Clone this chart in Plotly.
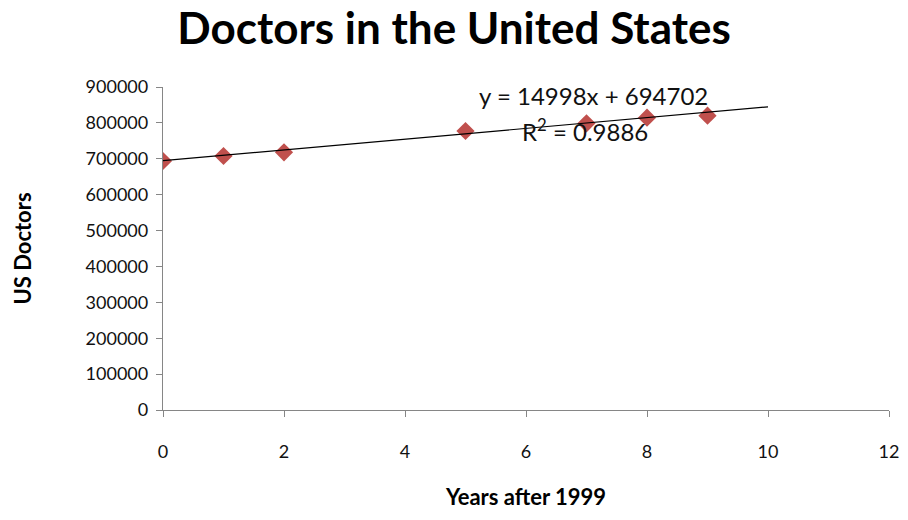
import plotly.graph_objects as go

# Years after 1999 and number of US doctors
years = [0, 1, 2, 5, 7, 8, 9]
doctors = [693800, 707700, 718000, 777400, 798900, 814500, 820000]

# Linear trendline coefficients and fit quality
slope = 14998
intercept = 694702
r_squared = 0.9886
trend_x = [0, 10]
trend_y = [slope * x + intercept for x in trend_x]

x_ticks = [0, 2, 4, 6, 8, 10, 12]
y_ticks = list(range(0, 900001, 100000))

axis_color = "#868686"
marker_color = "#C0504D"
font_family = "Lato, 'Open Sans', sans-serif"

fig = go.Figure()

fig.add_trace(go.Scatter(
    x=years, y=doctors, mode="markers",
    marker=dict(symbol="diamond", size=14, color=marker_color,
                line=dict(width=0)),
    showlegend=False,
))

fig.add_trace(go.Scatter(
    x=trend_x, y=trend_y, mode="lines",
    line=dict(color="black", width=1.2),
    showlegend=False,
))

fig.add_annotation(
    x=7.12, y=877000, xref="x", yref="y",
    text=f"y = {slope}x + {intercept}", showarrow=False,
    font=dict(family=font_family, size=24, color="#111111"),
)
fig.add_annotation(
    x=6.97, y=780000, xref="x", yref="y",
    text=f"R<sup>2</sup> = {r_squared}", showarrow=False,
    font=dict(family=font_family, size=24, color="#111111"),
)

fig.update_layout(
    width=908, height=520,
    margin=dict(l=163, r=19, t=87, b=110, autoexpand=False),
    paper_bgcolor="white", plot_bgcolor="white",
    font=dict(family=font_family, size=18, color="#111111"),
    title=dict(
        text="<b>Doctors in the United States</b>",
        x=0.5, xanchor="center", y=0.945, yanchor="middle",
        font=dict(family=font_family, size=44, color="black"),
    ),
    showlegend=False,
)

fig.update_xaxes(
    range=[0, 12], tickvals=x_ticks, ticktext=[str(v) for v in x_ticks],
    showgrid=False, zeroline=False,
    showline=True, linecolor=axis_color, linewidth=1.3,
    ticks="outside", ticklen=6, tickcolor=axis_color, tickwidth=1.3,
    ticklabelstandoff=19,
    tickfont=dict(family=font_family, size=18, color="#111111"),
    title=dict(text="<b>Years after 1999</b>", standoff=28,
               font=dict(family=font_family, size=22, color="black")),
    automargin=False,
)

fig.update_yaxes(
    range=[0, 900000], tickvals=y_ticks, ticktext=[str(v) for v in y_ticks],
    showgrid=False, zeroline=False,
    showline=True, linecolor=axis_color, linewidth=1.3,
    ticks="outside", ticklen=6, tickcolor=axis_color, tickwidth=1.3,
    ticklabelstandoff=4,
    tickfont=dict(family=font_family, size=18, color="#111111"),
    title=dict(text="<b>US Doctors</b>", standoff=47,
               font=dict(family=font_family, size=22, color="black")),
    automargin=False,
)

fig.write_html("out.html")
